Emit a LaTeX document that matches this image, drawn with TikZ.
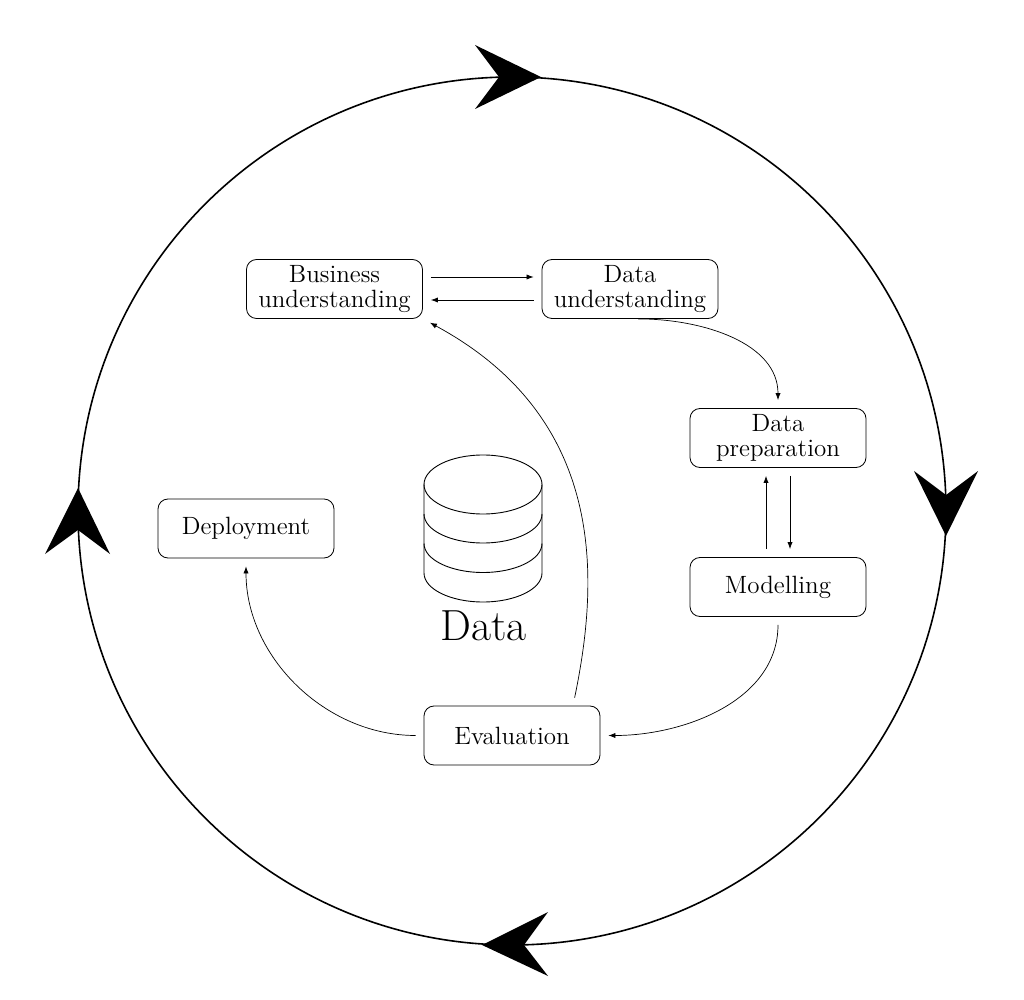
\documentclass[tikz,border=0pt]{standalone}
\usetikzlibrary{arrows.meta}
\tikzset{
  stage/.style={draw, line width=0.4pt, rounded corners=5pt, minimum width=88pt, minimum height=29.5pt,
    inner sep=0pt, align=center, font=\fontsize{12.5}{12.5}\selectfont},
  arr/.style={line width=0.35pt, -{Latex[length=3.5pt,width=2.6pt]}, shorten <=4pt, shorten >=4pt},
  head/.style={fill=black, draw=none},
  drum/.style={line width=0.45pt}
}
\begin{document}
\begin{tikzpicture}[x=0.5pt,y=-0.5pt]
\useasboundingbox (0,0) rectangle (1024,1000);
% outer cycle
\coordinate (C) at (512,511);
\draw[line width=0.8pt] (C) circle[radius=217pt];
\fill[head] (541,77) -- (475,45) -- (499,77) -- (475,109) -- cycle;
\fill[head] (946,536) -- (914,471) -- (946,495) -- (978,471) -- cycle;
\fill[head] (482,945) -- (548,912) -- (524,945) -- (548,976) -- cycle;
\fill[head] (78,488) -- (45,554) -- (78,530) -- (110,554) -- cycle;
% stages
\node[stage] (B) at (334.5,289) {Business\\understanding};
\node[stage] (U) at (630,289) {Data\\understanding};
\node[stage] (P) at (778,438) {Data\\preparation};
\node[stage] (M) at (778,587) {Modelling};
\node[stage] (D) at (246,528.5) {Deployment};
\node[stage] (E) at (512,735.5) {Evaluation};
% connectors
\draw[arr] ([yshift=6pt]B.east) -- ([yshift=6pt]U.west);
\draw[arr] ([yshift=-5.5pt]U.west) -- ([yshift=-5.5pt]B.east);
\draw[arr, shorten <=0pt] ([xshift=4pt]U.south) to[out=0,in=90] (P.north);
\draw[arr] ([xshift=-6pt]M.north) -- ([xshift=-6pt]P.south);
\draw[arr] ([xshift=6pt]P.south) -- ([xshift=6pt]M.north);
\draw[arr] (M.south) to[out=-90,in=0] (E.east);
\draw[arr] (E.west) to[out=180,in=-90] (D.south);
\draw[arr] ([xshift=30.5pt]E.north) .. controls (598,585) and (610,420) .. (B.south east);
% data store
\draw[drum] (483,484.5) ellipse[x radius=29.5pt, y radius=14.75pt];
\draw[drum] (424,484.5) -- (424,573) arc[start angle=180, end angle=360, x radius=29.5pt, y radius=14.5pt] -- (542,484.5);
\draw[drum] (424,514) arc[start angle=180, end angle=360, x radius=29.5pt, y radius=14.5pt];
\draw[drum] (424,543.5) arc[start angle=180, end angle=360, x radius=29.5pt, y radius=14.5pt];
\node[font=\fontsize{21.8}{24}\selectfont, inner sep=0pt] (L) at (483.5,626) {Data};
\end{tikzpicture}
\end{document}
